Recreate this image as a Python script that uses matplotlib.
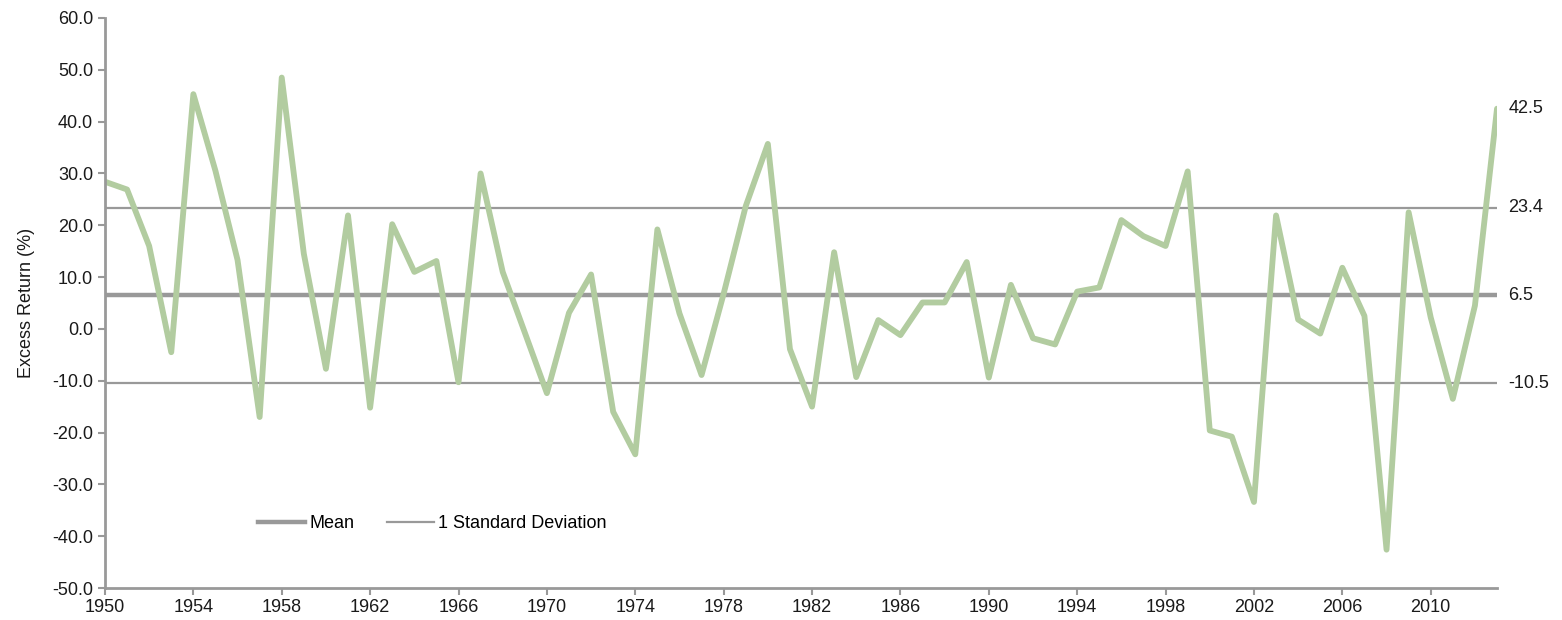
import matplotlib.pyplot as plt
from matplotlib.lines import Line2D

plt.rcParams['font.family'] = ['Liberation Sans', 'DejaVu Sans']

# annual excess return (%), 1950-2013
years = list(range(1950, 2014))
excess_return = [
    28.4, 26.9, 16.0, -4.5, 45.3, 30.5, 13.3, -17.0, 48.5, 14.5,
    -7.7, 21.9, -15.2, 20.2, 11.0, 13.1, -10.3, 30.0, 11.0, -0.7,
    -12.4, 3.1, 10.5, -16.0, -24.2, 19.2, 3.0, -8.9, 6.8, 23.7,
    35.7, -3.9, -15.0, 14.8, -9.3, 1.7, -1.2, 5.1, 5.1, 12.9,
    -9.4, 8.5, -1.8, -3.0, 7.2, 8.0, 21.0, 17.9, 16.0, 30.4,
    -19.6, -20.8, -33.4, 21.9, 1.8, -0.9, 11.8, 2.5, -42.6, 22.5,
    2.2, -13.5, 4.5, 42.5,
]
mean_value = 6.5
sd_upper = 23.4
sd_lower = -10.5
last_value = 42.5

y_ticks = [-50, -40, -30, -20, -10, 0, 10, 20, 30, 40, 50, 60]
x_ticks = list(range(1950, 2014, 4))

green = '#b2cca0'
grey = '#999999'
text_col = '#1a1a1a'
fs = 13

fig = plt.figure(figsize=(15.62, 6.2), dpi=100)
ax = fig.add_axes([0.0672, 0.0516, 0.8912, 0.9194])

ax.axhline(sd_upper, color=grey, lw=1.6, zorder=1)
ax.axhline(sd_lower, color=grey, lw=1.6, zorder=1)
ax.axhline(mean_value, color=grey, lw=3.2, zorder=1)
ax.plot(years, excess_return, color=green, lw=4.2, solid_joinstyle='round',
        solid_capstyle='round', zorder=2)

ax.set_xlim(years[0], years[-1])
ax.set_ylim(-50, 60)
ax.set_yticks(y_ticks)
ax.set_yticklabels([f'{v:.1f}' for v in y_ticks])
ax.set_xticks(x_ticks)
ax.set_xticklabels([str(v) for v in x_ticks])
ax.tick_params(axis='both', direction='out', length=5, width=1.5, color=grey,
               labelsize=fs, labelcolor=text_col)
ax.tick_params(axis='x', pad=3)

for side in ['top', 'right']:
    ax.spines[side].set_visible(False)
for side in ['left', 'bottom']:
    ax.spines[side].set_color(grey)
    ax.spines[side].set_linewidth(2)

ax.set_ylabel('Excess Return (%)', fontsize=fs, color=text_col, labelpad=12)

# value labels on the right edge
for v in [last_value, sd_upper, mean_value, sd_lower]:
    ax.text(1.008, (v + 50) / 110, f'{v:.1f}', transform=ax.transAxes,
            ha='left', va='center', fontsize=fs, color=text_col)

handles = [Line2D([], [], color=grey, lw=3.2),
           Line2D([], [], color=grey, lw=1.6)]
ax.legend(handles, ['Mean', '1 Standard Deviation'], loc='lower left',
          bbox_to_anchor=(0.098, 0.07), ncol=2, frameon=False,
          fontsize=fs, handlelength=2.6, handletextpad=0.25,
          columnspacing=1.8)

fig.savefig('out.png', dpi=100)
